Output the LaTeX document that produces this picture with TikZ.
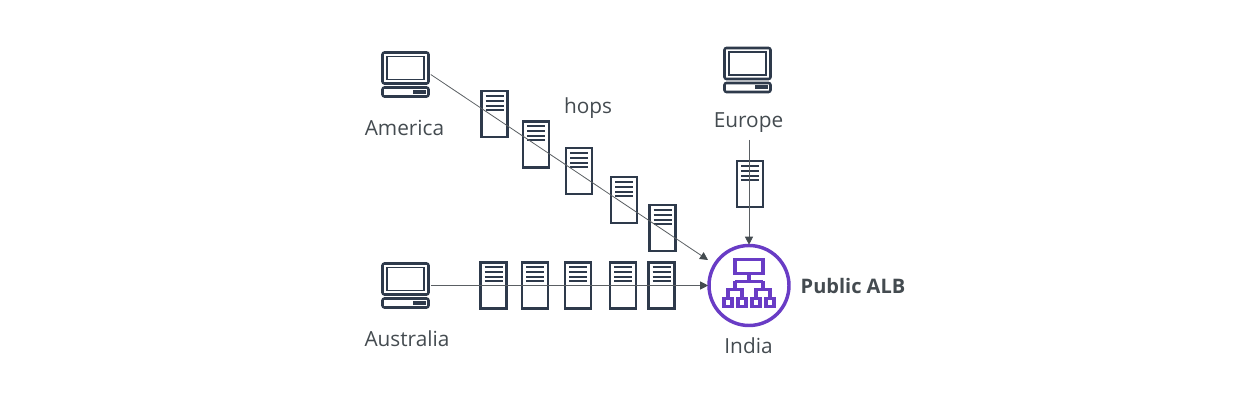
\documentclass[tikz,border=0pt]{standalone}
\usepackage{fontspec}
\setmainfont{Open Sans}
\usetikzlibrary{arrows.meta}

\definecolor{icondark}{HTML}{2E3A4B}
\definecolor{linkgrey}{HTML}{5A5F63}
\definecolor{labelgrey}{HTML}{444B50}
\definecolor{albpurple}{HTML}{693CC5}

\tikzset{
    serverbox/.style={draw=icondark,fill=white,line width=1.6pt,inner sep=0pt,minimum width=19.5pt,minimum height=34.5pt,
        path picture={
            \begin{scope}[shift={(path picture bounding box.center)}]
                \foreach \dy in {-18,-13,-8,-4}
                    \draw[icondark,line width=1.5pt] (-9,\dy) -- (9,\dy);
            \end{scope}
        }},
    computerbox/.style={inner sep=0pt,minimum width=37.5pt,minimum height=35.25pt,
        path picture={
            \begin{scope}[shift={(path picture bounding box.center)},icondark,line width=1.9pt]
                \draw[rounded corners=1.5pt] (-23,-22) rectangle (23,9);
                \draw[line width=1.4pt] (-18.5,-18) rectangle (18.5,5);
                \draw[rounded corners=1.5pt] (-23,13) rectangle (23,22);
                \fill (7,15.5) rectangle (20,19.5);
            \end{scope}
        }},
    albcircle/.style={circle,draw=albpurple,line width=2.6pt,inner sep=0pt,minimum size=60pt,outer sep=0.6pt,
        path picture={
            \begin{scope}[shift={(path picture bounding box.center)},albpurple,line width=2.6pt]
                \draw (-14,-26) rectangle (14,-12);
                \draw (0,-12) -- (0,-4);
                \draw (-14,-4) -- (14,-4);
                \draw (-14,-4) -- (-14,4);
                \draw (14,-4) -- (14,4);
                \draw (-21,13) -- (-21,4) -- (-7,4) -- (-7,13);
                \draw (7,13) -- (7,4) -- (21,4) -- (21,13);
                \foreach \px in {-21,-7,7,21}
                    \draw (\px-4,13) rectangle (\px+4,21);
            \end{scope}
        }},
    place/.style={text=labelgrey,font=\fontsize{15.6pt}{18pt}\selectfont,inner sep=0pt},
    link/.style={draw=linkgrey,line width=0.6pt},
    linkhead/.style={link,-{Triangle[length=6pt,width=6pt,color=labelgrey]}}
}

\begin{document}
\begin{tikzpicture}[x=0.75pt,y=-0.75pt]
    \useasboundingbox (0,0) rectangle (1260,416);

    % computers
    \node[computerbox] (america) at (405.5,74.5) {};
    \node[computerbox] (europe) at (747.5,70) {};
    \node[computerbox] (australia) at (405.5,285.5) {};

    % hops towards India
    \node[serverbox] (hopA) at (494.5,114) {};
    \node[serverbox] (hopB) at (536,144.5) {};
    \node[serverbox] (hopC) at (579,171) {};
    \node[serverbox] (hopD) at (624,200) {};
    \node[serverbox] (hopE) at (662.5,228) {};

    \node[serverbox] (hopF) at (750,184) {};

    \node[serverbox] (hopG) at (493.5,285.5) {};
    \node[serverbox] (hopH) at (535,285.5) {};
    \node[serverbox] (hopI) at (578,285.5) {};
    \node[serverbox] (hopJ) at (623,285.5) {};
    \node[serverbox] (hopK) at (661.5,285.5) {};

    \node[albcircle] (alb) at (749,285.5) {};

    % labels
    \node[place] (americaText) at (404.5,128) {America};
    \node[place] (europeText) at (748.5,123) {Europe};
    \node[place] (australiaText) at (407,339) {Australia};
    \node[place] (hopsText) at (588,108) {hops};
    \node[place] (indiaText) at (748.5,346) {India};
    \node[place,font=\fontsize{15pt}{18pt}\selectfont\bfseries] (albText) at (853,286) {Public ALB};

    % links
    \coordinate (americaEnd) at (708,260);
    \coordinate (europeStart) at (749,140);

    \draw[linkhead] (america.east) -- (americaEnd);
    \draw[linkhead] (australia.east) -- (alb.west);
    \draw[linkhead] (europeStart) -- (alb.north);
\end{tikzpicture}
\end{document}
